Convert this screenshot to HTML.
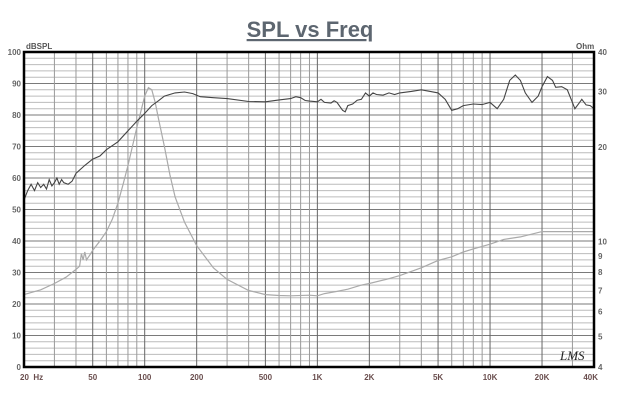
<!DOCTYPE html>
<html><head><meta charset="utf-8"><style>
body{margin:0;background:#fff;width:621px;height:405px;overflow:hidden;font-family:"Liberation Sans",sans-serif}
</style></head><body>
<svg id="s" width="621" height="405" xmlns="http://www.w3.org/2000/svg">
<text x="310" y="37" text-anchor="middle" font-family="Liberation Sans" font-weight="bold" font-size="22" fill="#5d6670" text-decoration="underline">SPL vs Freq</text>
<text x="26" y="49" font-size="8" font-weight="bold" fill="#555">dBSPL</text>
<text x="576" y="49" font-size="8" font-weight="bold" fill="#555">Ohm</text>
<g id="g"></g>
</svg>
<script>
const L=24,R=594,T=52,B=367,ppd=(R-L)/Math.log10(2000);
const X=f=>L+ppd*Math.log10(f/20), Y=d=>B-d*3.15;
let h='';
for(let d=0;d<=100;d+=2){const y=Y(d);h+=`<line x1="${L}" x2="${R}" y1="${y}" y2="${y}" stroke="${d%10?'#bcbcbc':'#7a7a7a'}" stroke-width="1"/>`;}
const fs=[];for(let dec=10;dec<=10000;dec*=10)for(let k=1;k<10;k++){const f=dec*k;if(f>=20&&f<=40000)fs.push(f);}fs.push(40000);
fs.forEach(f=>{const x=X(f);const m=[100,1000,10000,20,200,2000,20000,50,500,5000].includes(f);h+=`<line x1="${x}" x2="${x}" y1="${T}" y2="${B}" stroke="${m?'#666':'#999'}" stroke-width="1"/>`;});
for(let d=0;d<=100;d+=10)h+=`<text x="${L-3}" y="${Y(d)+3}" text-anchor="end" font-size="8" font-weight="bold" fill="#666">${d}</text>`;
[[4,'4'],[5,'5'],[6,'6'],[7,'7'],[8,'8'],[9,'9'],[10,'10'],[20,'20'],[30,'30'],[40,'40']].forEach(([o,t])=>{const y=B-315*Math.log10(o/4);h+=`<text x="${R+4}" y="${y+3}" font-size="8" font-weight="bold" fill="#666">${t}</text>`;});
[[20,'20  Hz'],[50,'50'],[100,'100'],[200,'200'],[500,'500'],[1000,'1K'],[2000,'2K'],[5000,'5K'],[10000,'10K'],[20000,'20K'],[40000,'40K']].forEach(([f,t],i)=>{h+=`<text x="${i==0?L-4:(i==10?R+4:X(f))}" y="380" text-anchor="${i==0?'start':(i==10?'end':'middle')}" font-size="8" font-weight="bold" fill="#6a4e4e" xml:space="preserve">${t}</text>`;});
const spl=[[20,53],[21,56],[22,58],[23,56],[24,58.5],[25,57],[26,58],[27,56.5],[28,59.5],[29,57.5],[30,58.5],[31,60],[32,58],[33,59.5],[34,58.5],[36,58],[38,59],[40,61.5],[45,64],[50,66],[55,67],[60,69],[70,71.5],[80,75],[90,78],[100,80.5],[110,83],[120,84.5],[130,86],[150,87],[170,87.3],[190,86.8],[210,85.8],[250,85.5],[300,85.2],[400,84.3],[500,84.2],[600,84.8],[700,85.2],[750,85.8],[800,85.5],[850,84.6],[900,84.4],[1000,84.2],[1050,85],[1100,84],[1200,83.8],[1250,84.5],[1300,84],[1400,81.5],[1450,81],[1500,83],[1600,83.5],[1700,84.7],[1800,85],[1900,87],[2000,86],[2100,87],[2200,86.5],[2400,86.3],[2600,87],[2800,86.5],[3000,87],[3500,87.5],[4000,88],[4500,87.5],[5000,87],[5500,85],[6000,81.5],[6500,82],[7000,83],[8000,83.5],[9000,83.3],[10000,84],[11000,82],[12000,85],[13000,91],[14000,92.7],[15000,91],[16000,87],[17500,84],[19000,86],[20000,89],[21500,92.2],[23000,91],[24000,88.8],[26000,89],[28000,88],[30000,84],[31000,82],[33000,84],[34000,85],[36000,83.2],[38000,83],[40000,82]];
const imp=[[20,23],[25,24.5],[30,26.5],[35,28.5],[40,31],[42,32],[43,36],[44,34],[45,36.5],[46,34],[48,35.5],[50,37],[55,40],[60,43],[65,47],[70,52],[75,58],[80,64],[90,76],[100,86],[105,88.7],[110,88],[115,84],[120,79],[130,70],[140,61],[150,54],[170,46],[200,38.5],[250,31.5],[300,27.8],[400,24.3],[500,23],[600,22.7],[700,22.6],[900,22.8],[1000,22.6],[1100,23.3],[1300,24],[1500,24.7],[1800,26],[2000,26.5],[2500,27.8],[3000,29],[4000,31.5],[5000,33.8],[6000,35],[7000,36.5],[8000,37.5],[10000,39],[12000,40.5],[15000,41.3],[20000,43],[40000,43]];
const P=a=>a.map(([f,d])=>`${X(f).toFixed(1)},${Y(d).toFixed(1)}`).join(' ');
h+=`<polyline points="${P(imp)}" fill="none" stroke="#aaa" stroke-width="1.2"/>`;
h+=`<polyline points="${P(spl)}" fill="none" stroke="#444" stroke-width="1.1"/>`;
h+=`<rect x="${L}" y="${T}" width="${R-L}" height="${B-T}" fill="none" stroke="#000" stroke-width="2.5"/>`;
h+=`<text x="560" y="360" font-family="Liberation Serif" font-style="italic" font-size="13" fill="#222">LMS</text>`;
document.getElementById('g').innerHTML=h;
</script>
</body></html>
